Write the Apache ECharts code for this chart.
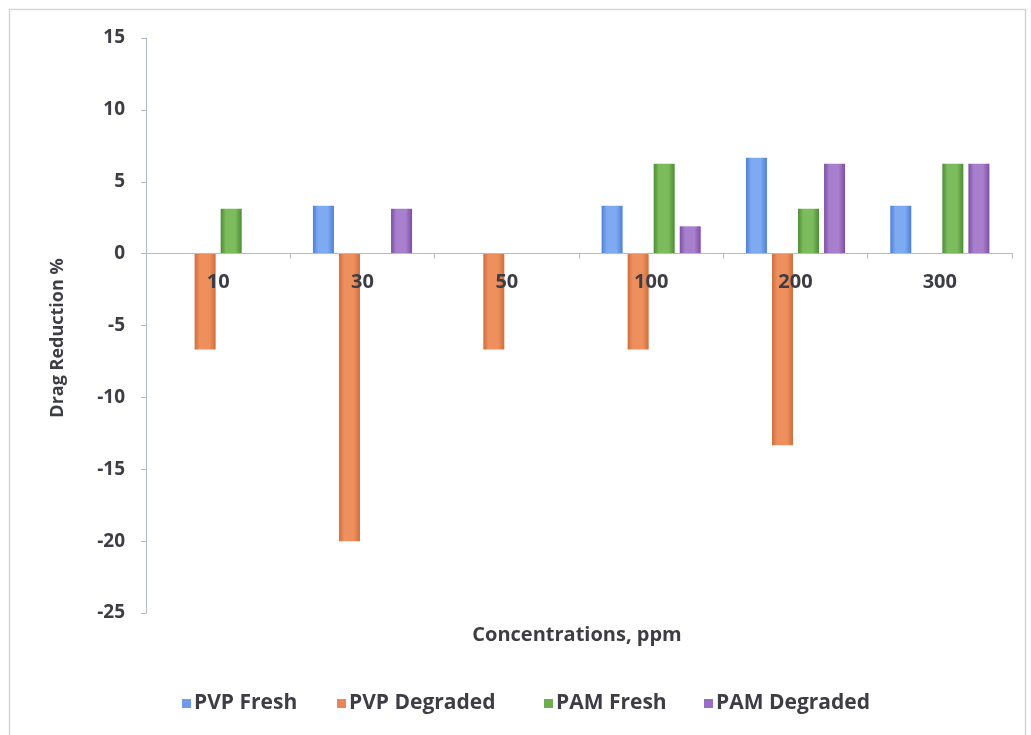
<!DOCTYPE html>
<html>
<head>
<meta charset="utf-8">
<script src="https://cdn.jsdelivr.net/npm/echarts@6/dist/echarts.min.js"></script>
<style>
html,body{margin:0;padding:0;background:#fff;}
#chart{width:1031px;height:735px;}
</style>
</head>
<body>
<div id="chart"></div>
<script>
var categories = ['10', '30', '50', '100', '200', '300'];
var pvpFresh    = [0, 3.33, 0, 3.33, 6.67, 3.33];
var pvpDegraded = [-6.67, -20, -6.67, -6.67, -13.33, 0];
var pamFresh    = [3.13, 0, 0, 6.25, 3.13, 6.25];
var pamDegraded = [0, 3.13, 0, 1.9, 6.25, 6.25];
var seriesNames = ['PVP Fresh', 'PVP Degraded', 'PAM Fresh', 'PAM Degraded'];
var yTicks = {min: -25, max: 15, interval: 5};

var FONT = 'Open Sans';
var TXT = '#3d3d45';

function grad(edge, mid) {
  return new echarts.graphic.LinearGradient(0, 0, 1, 0, [
    {offset: 0, color: edge},
    {offset: 0.25, color: mid},
    {offset: 0.7, color: mid},
    {offset: 1, color: edge}
  ]);
}
var fills = [
  grad('#4f7fd6', '#7eaaf2'),
  grad('#d06e3c', '#ee905e'),
  grad('#4c8c36', '#7cbc5c'),
  grad('#7b4ea3', '#a77fcc')
];
var legendColors = ['#6e9ae8', '#e8855a', '#6cae50', '#9a6cc4'];
var legendLefts = [177, 332, 539, 699];

var GRID_TOP = 38, GRID_BOTTOM = 122, H = 735;
var gridH = H - GRID_TOP - GRID_BOTTOM;
var zeroOffset = -gridH * (0 - yTicks.min) / (yTicks.max - yTicks.min);

var chart = echarts.init(document.getElementById('chart'));
var data = [pvpFresh, pvpDegraded, pamFresh, pamDegraded];
var series = data.map(function (d, i) {
  return {
    name: seriesNames[i],
    type: 'bar',
    data: d,
    barWidth: 21,
    barGap: '24%',
    itemStyle: {color: fills[i]},
    emphasis: {disabled: true}
  };
});

var legends = seriesNames.map(function (n, i) {
  return {
    data: [{name: n, itemStyle: {color: legendColors[i]}}],
    left: legendLefts[i],
    top: 688,
    itemWidth: 9,
    itemHeight: 9,
    icon: 'rect',
    selectedMode: false,
    textStyle: {fontFamily: FONT, fontWeight: 'bold', fontSize: 21, color: TXT, padding: [0, 0, 0, -2]}
  };
});

chart.setOption({
  animation: false,
  backgroundColor: '#fff',
  color: legendColors,
  grid: {left: 146, right: 19, top: GRID_TOP, bottom: GRID_BOTTOM, containLabel: false},
  legend: legends,
  xAxis: {
    type: 'category',
    data: categories,
    offset: zeroOffset,
    z: 10,
    axisLine: {onZero: false, lineStyle: {color: '#b4b8cc', width: 1}},
    axisTick: {show: true, length: 5, lineStyle: {color: '#b4b8cc'}},
    axisLabel: {fontFamily: FONT, fontWeight: 'bold', fontSize: 20, color: TXT, margin: 19},
    splitLine: {show: false}
  },
  yAxis: {
    type: 'value',
    min: yTicks.min,
    max: yTicks.max,
    interval: yTicks.interval,
    axisLine: {show: true, lineStyle: {color: '#b4b8cc', width: 1}},
    axisTick: {show: true, length: 5, lineStyle: {color: '#b4b8cc'}},
    axisLabel: {fontFamily: FONT, fontWeight: 'bold', fontSize: 19, color: TXT, margin: 21},
    splitLine: {show: false}
  },
  graphic: [
    {type: 'rect', shape: {x: 9.5, y: 9.5, width: 1016, height: 740}, style: {fill: 'none', stroke: '#d4d6de', lineWidth: 1.5}, z: -1},
    {type: 'text', x: 58, y: 338, rotation: Math.PI / 2,
     style: {text: 'Drag Reduction %', fontFamily: FONT, fontWeight: 'bold', fontSize: 18, fill: TXT, align: 'center', verticalAlign: 'middle'}},
    {type: 'text', x: 577, y: 635,
     style: {text: 'Concentrations, ppm', fontFamily: FONT, fontWeight: 'bold', fontSize: 20, fill: TXT, align: 'center', verticalAlign: 'middle'}}
  ],
  series: series
});
</script>
</body>
</html>
